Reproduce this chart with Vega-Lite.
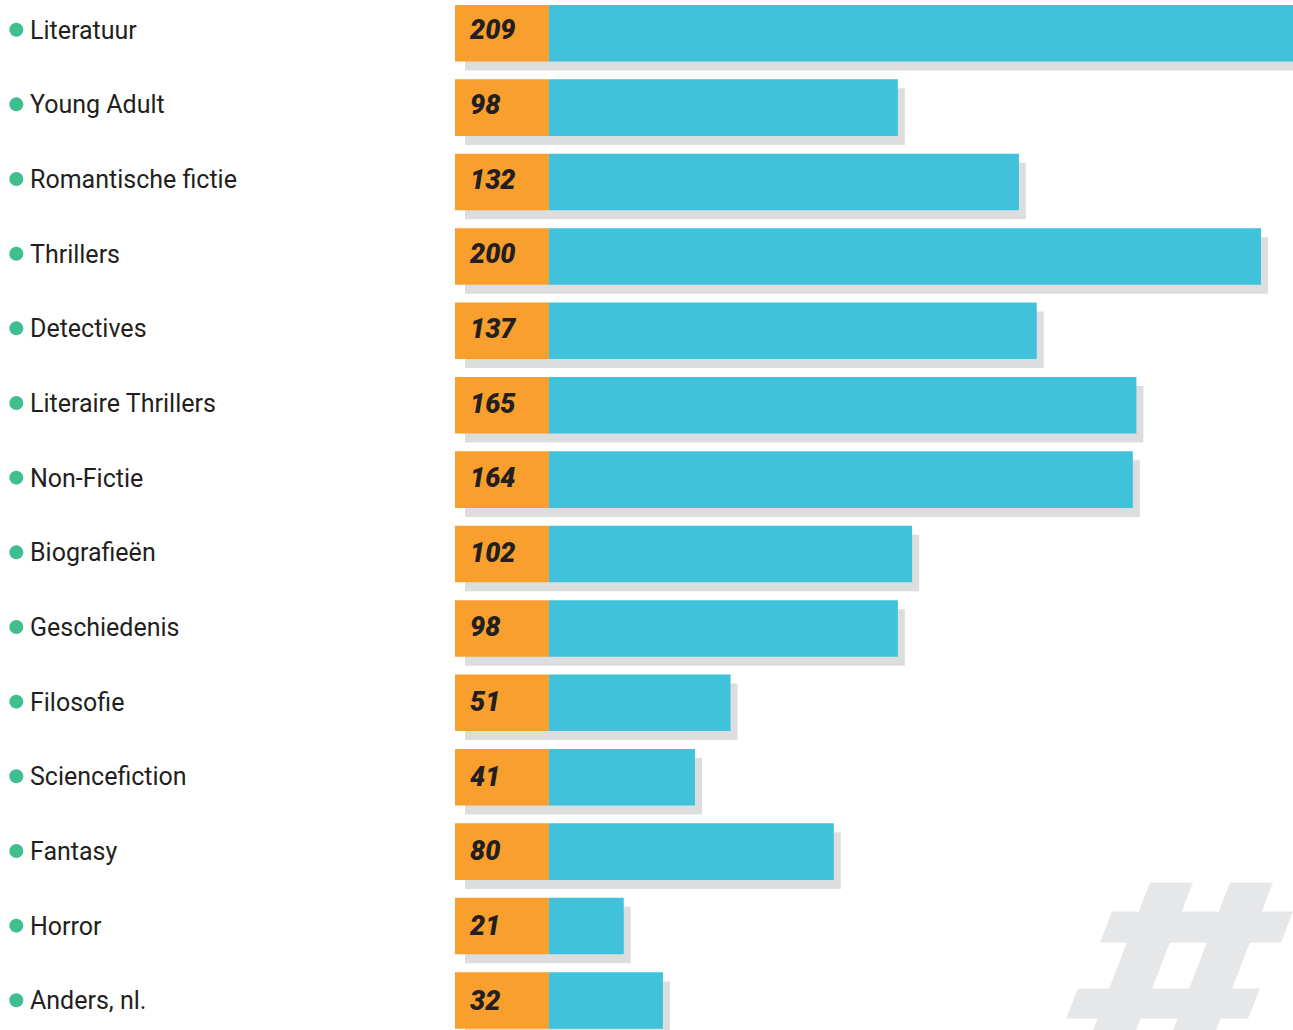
{
  "$schema": "https://vega.github.io/schema/vega-lite/v6.json",
  "width": 1293,
  "height": 1030,
  "padding": 0,
  "autosize": {"type": "none"},
  "background": "#ffffff",
  "config": {"view": {"stroke": null}, "font": "Roboto"},
  "data": {
    "values": [
      {"genre": "Literatuur", "aantal": 209},
      {"genre": "Young Adult", "aantal": 98},
      {"genre": "Romantische fictie", "aantal": 132},
      {"genre": "Thrillers", "aantal": 200},
      {"genre": "Detectives", "aantal": 137},
      {"genre": "Literaire Thrillers", "aantal": 165},
      {"genre": "Non-Fictie", "aantal": 164},
      {"genre": "Biografieën", "aantal": 102},
      {"genre": "Geschiedenis", "aantal": 98},
      {"genre": "Filosofie", "aantal": 51},
      {"genre": "Sciencefiction", "aantal": 41},
      {"genre": "Fantasy", "aantal": 80},
      {"genre": "Horror", "aantal": 21},
      {"genre": "Anders, nl.", "aantal": 32}
    ]
  },
  "resolve": {"scale": {"y": "independent"}},
  "layer": [
    {
      "encoding": {
        "y": {
          "field": "genre",
          "type": "nominal",
          "sort": null,
          "axis": null,
          "scale": {
            "domain": ["Literatuur", "Young Adult", "Romantische fictie", "Thrillers", "Detectives", "Literaire Thrillers", "Non-Fictie", "Biografieën", "Geschiedenis", "Filosofie", "Sciencefiction", "Fantasy", "Horror", "Anders, nl."],
            "paddingInner": 0.24,
            "paddingOuter": 0.042,
            "align": 0.79
          }
        }
      },
      "layer": [
        {
          "transform": [{"filter": "datum.genre === 'Anders, nl.'"}],
          "mark": {
            "type": "point",
            "shape": "M-0.2308,-0.6462L0.1,-0.6462L-0.3977,0.6462L-0.7285,0.6462Z M0.3846,-0.6462L0.7154,-0.6462L0.2177,0.6462L-0.1131,0.6462Z M-0.5231,-0.4231L0.8692,-0.4231L0.7769,-0.1846L-0.6154,-0.1846Z M-0.7846,0.1692L0.6154,0.1692L0.5231,0.4L-0.8769,0.4Z",
            "size": 67600,
            "filled": true,
            "color": "#E6E7E9",
            "opacity": 1,
            "strokeWidth": 0,
            "yOffset": -34
          },
          "encoding": {
            "x": {
              "datum": 177.25,
              "type": "quantitative",
              "scale": {"domain": [-154.21, 208.99], "nice": false, "zero": false},
              "axis": null
            }
          }
        },
        {
          "mark": {"type": "bar", "color": "#DCDDDF", "xOffset": 7, "x2Offset": 10, "yOffset": 9},
          "encoding": {
            "x": {"field": "aantal", "type": "quantitative", "axis": null},
            "x2": {"datum": -26.4}
          }
        },
        {
          "mark": {"type": "bar", "color": "#F99F2E"},
          "encoding": {
            "x": {"datum": -26.4, "type": "quantitative", "axis": null},
            "x2": {"datum": 0}
          }
        },
        {
          "mark": {"type": "bar", "color": "#41C2DB"},
          "encoding": {
            "x": {"field": "aantal", "type": "quantitative", "axis": null},
            "x2": {"datum": 0}
          }
        }
      ]
    },
    {
      "encoding": {
        "y": {
          "field": "genre",
          "type": "nominal",
          "sort": null,
          "axis": null,
          "scale": {
            "type": "point",
            "domain": ["Literatuur", "Young Adult", "Romantische fictie", "Thrillers", "Detectives", "Literaire Thrillers", "Non-Fictie", "Biografieën", "Geschiedenis", "Filosofie", "Sciencefiction", "Fantasy", "Horror", "Anders, nl."],
            "padding": 0.398
          }
        }
      },
      "layer": [
        {
          "mark": {
            "type": "text",
            "align": "left",
            "baseline": "alphabetic",
            "dy": 9.5,
            "fontSize": 27,
            "fontWeight": 900,
            "fontStyle": "italic",
            "color": "#231F20"
          },
          "encoding": {
            "x": {"datum": -22.19, "type": "quantitative", "axis": null},
            "text": {"field": "aantal", "type": "quantitative"}
          }
        },
        {
          "mark": {"type": "point", "shape": "circle", "filled": true, "size": 196, "opacity": 1, "color": "#3FBF8D"},
          "encoding": {
            "x": {"datum": -149.63, "type": "quantitative", "axis": null}
          }
        },
        {
          "mark": {
            "type": "text",
            "align": "left",
            "baseline": "alphabetic",
            "dy": 9,
            "fontSize": 25,
            "color": "#231F20"
          },
          "encoding": {
            "x": {"datum": -145.79, "type": "quantitative", "axis": null},
            "text": {"field": "genre", "type": "nominal"}
          }
        }
      ]
    }
  ]
}
